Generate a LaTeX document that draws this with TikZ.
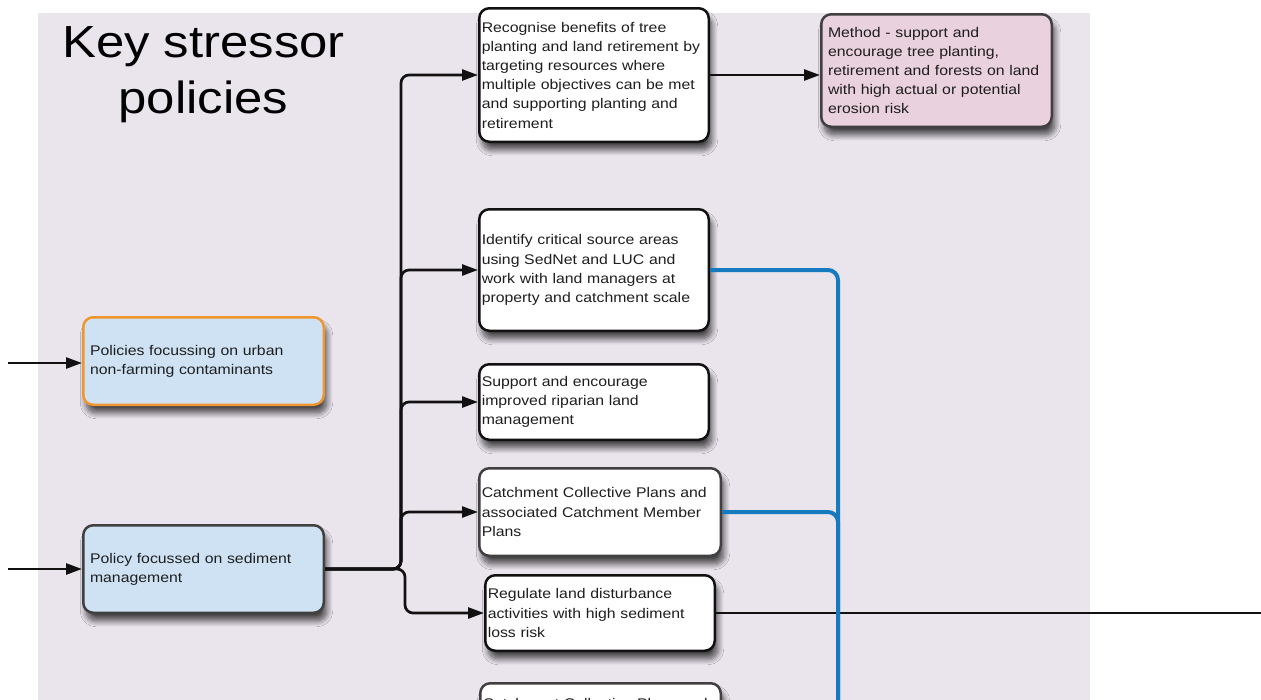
\documentclass[tikz,border=0pt]{standalone}
\usepackage{fontspec}
\setmainfont{Liberation Sans}[FakeStretch=1.13]
\usetikzlibrary{arrows.meta,shadows.blur,calc}

\definecolor{lav}{RGB}{234,228,237}
\definecolor{bluefill}{RGB}{207,226,243}
\definecolor{orangeline}{RGB}{240,150,46}
\definecolor{pinkfill}{RGB}{233,209,221}
\definecolor{blueline}{RGB}{22,122,190}
\definecolor{boxline}{RGB}{17,17,17}
\definecolor{greyline}{RGB}{64,64,64}
\definecolor{textgrey}{RGB}{30,30,30}

\tikzset{
  box/.style={rounded corners=10pt, line width=2.5pt, draw=boxline, fill=white,
    align=left, text=textgrey, font=\fontsize{14}{19.2}\selectfont,
    inner xsep=2.5pt, inner ysep=0pt,
    blur shadow={shadow xshift=3pt, shadow yshift=-8pt, shadow blur radius=6pt,
      shadow blur steps=10, shadow opacity=70}},
  policybox/.style={box, fill=bluefill, draw=greyline, inner xsep=6.75pt},
  methodbox/.style={box, fill=pinkfill, draw=greyline, inner xsep=6.75pt},
  title/.style={font=\fontsize{45}{56}\selectfont, text=black, inner sep=0pt},
  conn/.style={line width=2.7pt, draw=boxline, rounded corners=8pt,
    -{Triangle[length=16pt,width=11pt]}},
  plainline/.style={line width=2.5pt, draw=boxline},
  blueconn/.style={line width=4pt, draw=blueline, rounded corners=10pt},
}

\begin{document}
\begin{tikzpicture}[x=1pt,y=-1pt]
\useasboundingbox (0,0) rectangle (1261,699);
\fill[white] (0,0) rectangle (1261,699);
% shaded panel behind the policy column
\fill[lav] (38,13) rectangle (1090,740);

% heading
\node[title, anchor=base] (t1) at (203.5,57) {Key stressor};
\node[title, anchor=base] (t2) at (203.5,113) {policies};

% policy boxes
\node[policybox, draw=orangeline, minimum width=240.5pt, minimum height=87.5pt, text width=227pt] (urban) at (203.5,361)
  {Policies focussing on urban\\non-farming contaminants};
\node[policybox, minimum width=240.5pt, minimum height=87.5pt, text width=227pt] (sed) at (203.5,569)
  {Policy focussed on sediment\\management};

% actions
\node[box, minimum width=229.5pt, minimum height=133.5pt, text width=224.5pt] (rec) at (594,75)
  {Recognise benefits of tree\\planting and land retirement by\\targeting resources where\\multiple objectives can be met\\and supporting planting and\\retirement};
\node[methodbox, minimum width=230.5pt, minimum height=112.5pt, text width=217pt] (meth) at (936.5,70.5)
  {Method - support and\\encourage tree planting,\\retirement and forests on land\\with high actual or potential\\erosion risk};
\node[box, minimum width=229.5pt, minimum height=121.5pt, text width=224.5pt] (ident) at (594,270)
  {Identify critical source areas\\using SedNet and LUC and\\work with land managers at\\property and catchment scale};
\node[box, minimum width=229.5pt, minimum height=75.5pt, text width=224.5pt] (supp) at (594,402)
  {Support and encourage\\improved riparian land\\management};
\node[box, draw=greyline, minimum width=241.5pt, minimum height=87.5pt, text width=236.5pt] (catch) at (600,512)
  {Catchment Collective Plans and\\associated Catchment Member\\Plans};
\node[box, minimum width=229.5pt, minimum height=75.5pt, text width=224.5pt] (reg) at (600,613)
  {Regulate land disturbance\\activities with high sediment\\loss risk};
\node[box, draw=greyline, anchor=north, inner ysep=15pt, minimum width=240.5pt, text width=235.5pt] (more) at (600.5,682)
  {Catchment Collective Plans and};

% inputs
\coordinate (inU) at (8,363);
\coordinate (inS) at (8,569);
\draw[conn] (inU) -- (inU -| urban.west);
\draw[conn] (inS |- sed.west) -- (sed.west);

% branching from the sediment policy
\coordinate (tu) at (401,569);
\coordinate (td) at (405,569);
\draw[conn] (sed.east) -- (tu) |- (rec.west);
\draw[conn] (sed.east) -- (tu) |- (ident.west);
\draw[conn] (sed.east) -- (tu) |- (supp.west);
\draw[conn] (sed.east) -- (tu) |- (catch.west);
\draw[conn] (sed.east) -- (td) |- (reg.west);

\draw[conn] (rec.east) -- (meth.west |- rec.east);

% regulation line leaving to the right
\coordinate (rx) at (1275,613);
\draw[plainline] (reg.east) -- (reg.east -| rx);

% blue links
\coordinate (bx) at (838,760);
\draw[blueconn] (ident.east) -| (bx);
\draw[blueconn] (catch.east) -| (bx);
\end{tikzpicture}
\end{document}
